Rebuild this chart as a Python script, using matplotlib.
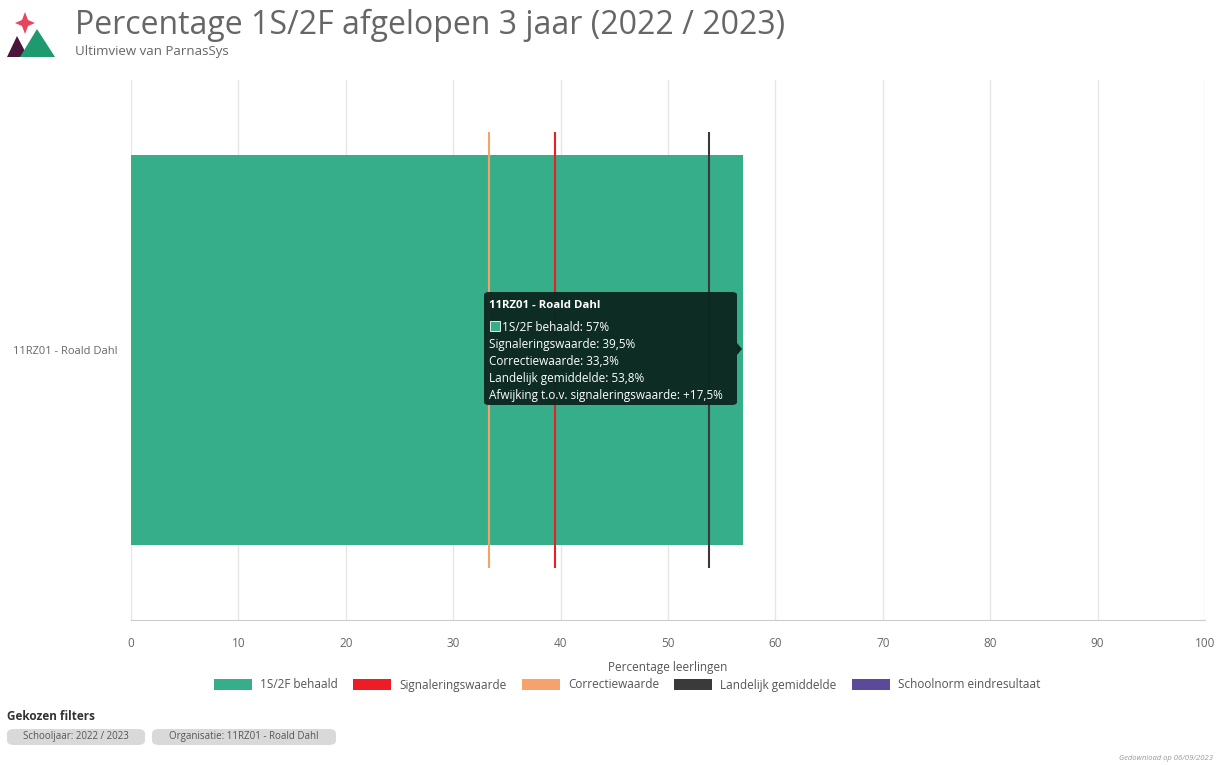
import matplotlib
matplotlib.use("Agg")
import matplotlib.pyplot as plt
from matplotlib.patches import Patch, FancyBboxPatch, Polygon

plt.rcParams['font.family'] = ['Open Sans', 'DejaVu Sans']

# Data
categories = ["11RZ01 - Roald Dahl"]
behaald = [57.0]
signalering = [39.5]
correctie = [33.3]
landelijk = [53.8]
afwijking = ["+17,5%"]
xticks = [0, 10, 20, 30, 40, 50, 60, 70, 80, 90, 100]
legend_labels = ["1S/2F behaald", "Signaleringswaarde", "Correctiewaarde",
                 "Landelijk gemiddelde", "Schoolnorm eindresultaat"]
legend_colors = ["#36ae8a", "#ee1c25", "#f5a26c", "#3a3a3a", "#5b4a9a"]
filters = ["Schooljaar: 2022 / 2023", "Organisatie: 11RZ01 - Roald Dahl"]

W, H = 1218, 765
fig = plt.figure(figsize=(W / 100, H / 100), dpi=100)
fig.patch.set_facecolor("white")

ax = fig.add_axes([131 / W, 1 - 620 / H, (1205 - 131) / W, (620 - 80) / H])
ax.set_xlim(0, 100)
ax.set_ylim(-0.5, 0.5)
ax.barh([0], behaald, height=0.722, color=legend_colors[0], zorder=2)
ax.vlines(correctie, -0.403, 0.403, color=legend_colors[2], lw=1.5, zorder=3)
ax.vlines(signalering, -0.403, 0.403, color=legend_colors[1], lw=1.5, zorder=3)
ax.vlines(landelijk, -0.403, 0.403, color=legend_colors[3], lw=1.5, zorder=3)

ax.set_xticks(xticks)
ax.set_xticklabels([str(t) for t in xticks])
ax.set_yticks([0])
ax.set_yticklabels(categories)
ax.tick_params(axis='x', length=0, pad=12, labelsize=8.5, colors="#666666")
ax.tick_params(axis='y', length=0, pad=10, labelsize=8, colors="#666666")
ax.grid(axis='x', color="#e6e6e6", lw=1, zorder=0)
for s in ["top", "right", "left"]:
    ax.spines[s].set_visible(False)
ax.spines["bottom"].set_color("#cccccc")
ax.set_xlabel("Percentage leerlingen", fontsize=8.5, color="#555555", labelpad=8)

# Tooltip
tip_l, tip_r = 484 / W, 737 / W
tip_b, tip_t = 1 - 405 / H, 1 - 292 / H
box = FancyBboxPatch((tip_l, tip_b), tip_r - tip_l, tip_t - tip_b,
                     boxstyle="round,pad=0,rounding_size=0.004",
                     transform=fig.transFigure, facecolor="#0c2820",
                     edgecolor="none", alpha=0.97, zorder=10)
fig.patches.append(box)
arrow = Polygon([[tip_r, 1 - 343 / H], [tip_r + 5 / W, 1 - 349 / H], [tip_r, 1 - 355 / H]],
                closed=True, transform=fig.transFigure, facecolor="#0c2820",
                edgecolor="none", zorder=10)
fig.patches.append(arrow)

tx = 489 / W
fig.text(tx, 1 - 304 / H, categories[0], color="white", fontsize=8.2, fontweight="bold",
         va="center_baseline", zorder=11)
sq = FancyBboxPatch((490 / W, 1 - 331 / H), 10 / W, 10 / H, boxstyle="square,pad=0",
                    transform=fig.transFigure, facecolor=legend_colors[0],
                    edgecolor="white", lw=0.6, zorder=11)
fig.patches.append(sq)
def fmt(v):
    s = ("%.1f" % v).rstrip("0").rstrip(".")
    return s.replace(".", ",") + "%"
lines = [
    (502 / W, 326, "1S/2F behaald: " + fmt(behaald[0])),
    (tx, 343, "Signaleringswaarde: " + fmt(signalering[0])),
    (tx, 360, "Correctiewaarde: " + fmt(correctie[0])),
    (tx, 377, "Landelijk gemiddelde: " + fmt(landelijk[0])),
    (tx, 394, "Afwijking t.o.v. signaleringswaarde: " + afwijking[0]),
]
for x, y, t in lines:
    fig.text(x, 1 - y / H, t, color="white", fontsize=8.5, va="center_baseline", zorder=11)

# Legend
handles = [Patch(facecolor=c, edgecolor="none") for c in legend_colors]
leg = fig.legend(handles, legend_labels, loc="center", bbox_to_anchor=(0.515, 1 - 685 / H),
                 ncol=5, frameon=False, fontsize=8.5, handlelength=3.2, handleheight=1.0,
                 columnspacing=1.3, handletextpad=0.7)
for t in leg.get_texts():
    t.set_color("#555555")

# Title and logo
fig.text(75 / W, 1 - 25 / H, "Percentage 1S/2F afgelopen 3 jaar (2022 / 2023)",
         fontsize=23, color="#666666", va="center")
fig.text(75 / W, 1 - 51 / H, "Ultimview van ParnasSys", fontsize=9.5, color="#666666",
         va="center")

def fp(pts):
    return [[x / W, 1 - y / H] for x, y in pts]
star = Polygon(fp([(25, 12), (28, 20), (35, 23), (28, 26), (25, 34), (22, 26), (15, 23), (22, 20)]),
               closed=True, transform=fig.transFigure, facecolor="#e8455f", edgecolor="none")
purple = Polygon(fp([(7, 57), (17, 36), (28, 57)]), closed=True, transform=fig.transFigure,
                 facecolor="#4a1538", edgecolor="none")
green = Polygon(fp([(20, 57), (37, 29), (55, 57)]), closed=True, transform=fig.transFigure,
                facecolor="#1e9a6e", edgecolor="none")
for p in (star, purple, green):
    fig.patches.append(p)

# Filters
fig.text(7 / W, 1 - 716 / H, "Gekozen filters", fontsize=8.5, fontweight="bold",
         color="#333333", va="center")
pills = [(7, 145), (152, 336)]
for (x0, x1), label in zip(pills, filters):
    pb = FancyBboxPatch((x0 / W, 1 - 745 / H), (x1 - x0) / W, 16 / H,
                        boxstyle="round,pad=0,rounding_size=0.006",
                        transform=fig.transFigure, facecolor="#d9d9d9", edgecolor="none")
    fig.patches.append(pb)
    fig.text((x0 + x1) / 2 / W, 1 - 737 / H, label, fontsize=7, color="#555555",
             ha="center", va="center")

fig.text(1213 / W, 1 - 759 / H, "Gedownload op 06/09/2023", fontsize=5.5, color="#999999",
         ha="right", va="center", style="italic")

fig.savefig("out.png", dpi=100, facecolor="white")
